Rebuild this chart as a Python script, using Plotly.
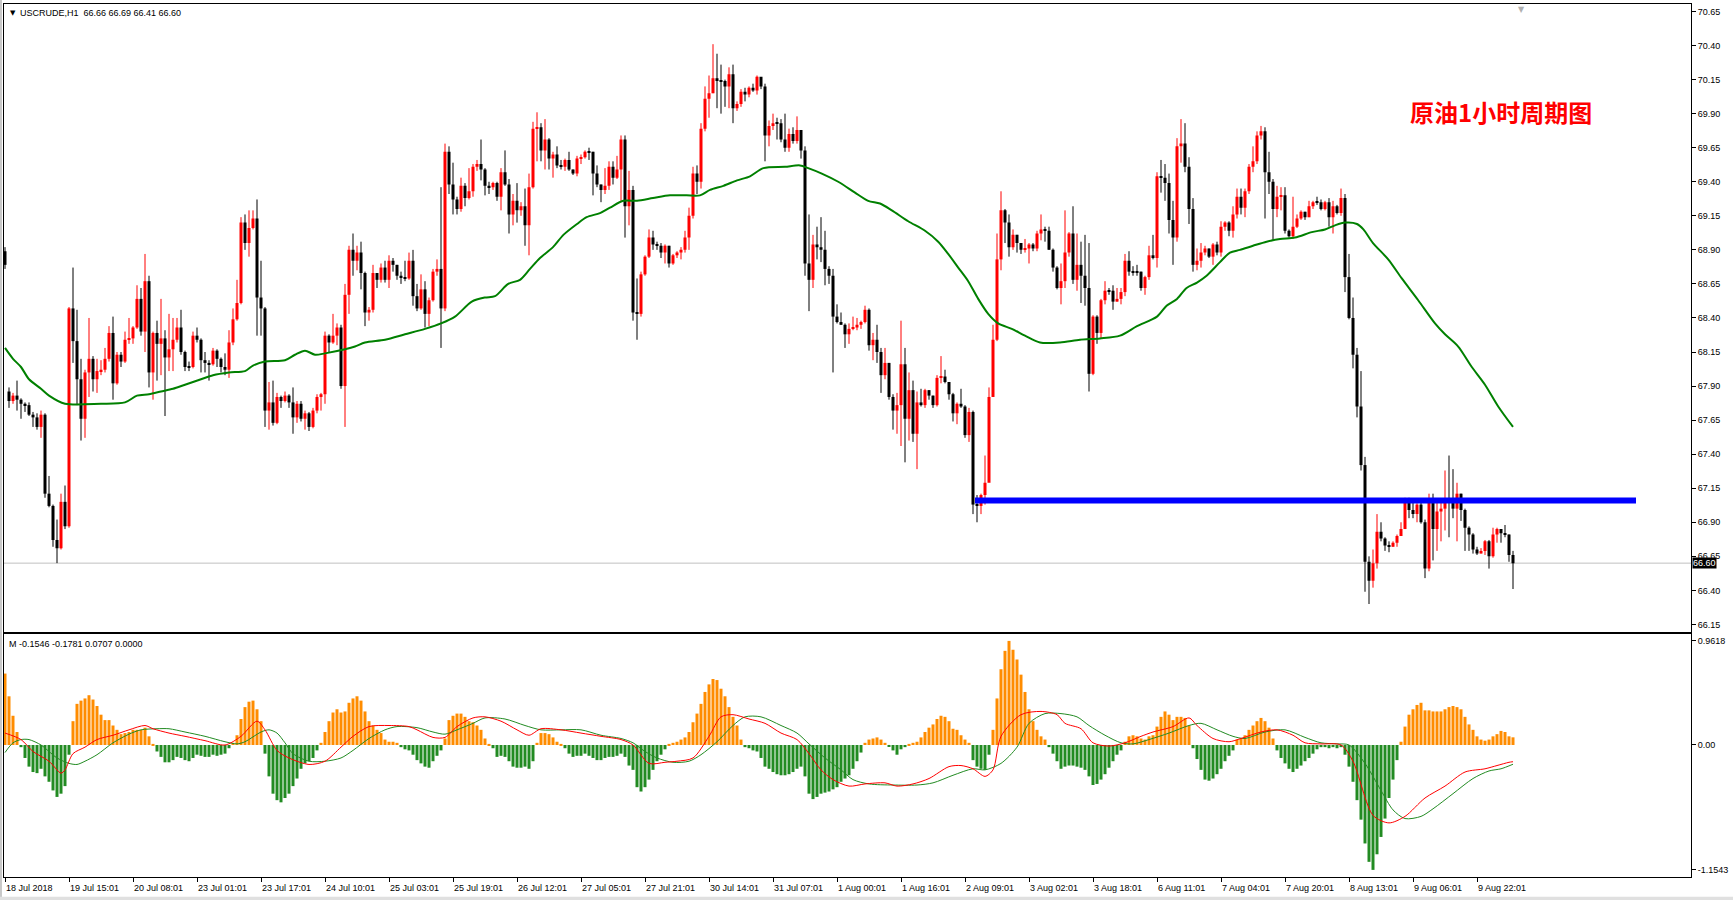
import plotly.graph_objects as go

# ---------------- DATA ----------------
first_open = 68.89
gap_opens = {1: 67.86}

closes = [
    68.79, 67.79, 67.83, 67.80, 67.77, 67.76, 67.69, 67.67, 67.60, 67.69,
    67.11, 67.02, 66.77, 66.71, 67.05, 66.87, 68.47, 68.23, 67.95, 67.66,
    68.00, 68.10, 67.95, 68.01, 68.02, 68.10, 68.29, 67.92, 68.13, 68.08,
    68.24, 68.25, 68.33, 68.54, 68.30, 68.67, 68.00, 68.29, 68.21, 68.25,
    68.11, 68.17, 68.24, 68.33, 68.15, 68.04, 68.04, 68.27, 68.24, 68.09,
    68.07, 68.06, 68.16, 68.10, 68.04, 68.02, 68.22, 68.39, 68.51, 69.10,
    68.95, 69.06, 69.13, 68.55, 68.47, 67.72, 67.78, 67.63, 67.82, 67.79,
    67.83, 67.78, 67.67, 67.77, 67.66, 67.70, 67.60, 67.72, 67.82, 67.84,
    68.27, 68.22, 68.27, 68.33, 67.90, 68.57, 68.90, 68.82, 68.88, 68.73,
    68.44, 68.46, 68.73, 68.68, 68.77, 68.68, 68.82, 68.79, 68.71, 68.70,
    68.69, 68.82, 68.56, 68.47, 68.61, 68.43, 68.53, 68.74, 68.76, 68.47,
    69.62, 69.38, 69.27, 69.20, 69.37, 69.28, 69.33, 69.51, 69.53, 69.49,
    69.37, 69.36, 69.39, 69.29, 69.47, 69.38, 69.16, 69.26, 69.19, 69.22,
    69.08, 69.36, 69.79, 69.80, 69.63, 69.71, 69.57, 69.60, 69.52, 69.51,
    69.56, 69.49, 69.46, 69.57, 69.58, 69.62, 69.62, 69.46, 69.38, 69.34,
    69.37, 69.51, 69.43, 69.49, 69.71, 69.22, 69.34, 68.44, 68.43, 68.72,
    68.85, 68.99, 68.94, 68.93, 68.88, 68.93, 68.80, 68.86, 68.88, 68.90,
    68.99, 69.15, 69.46, 69.40, 69.79, 70.01, 70.05, 70.16, 70.14, 70.14,
    70.10, 70.19, 69.94, 69.97, 70.06, 70.04, 70.09, 70.07, 70.17, 70.10,
    69.74, 69.81, 69.83, 69.83, 69.71, 69.65, 69.75, 69.70, 69.78, 69.63,
    68.80, 68.68, 68.94, 68.92, 68.90, 68.76, 68.71, 68.41, 68.37, 68.35,
    68.28, 68.32, 68.33, 68.35, 68.37, 68.46, 68.20, 68.24, 68.15, 67.98,
    68.07, 67.82, 67.72, 67.76, 68.06, 67.66, 67.87, 67.55, 67.78, 67.76,
    67.87, 67.83, 67.76, 67.96, 67.97, 67.93, 67.84, 67.70, 67.77, 67.75,
    67.54, 67.71, 67.03, 67.02, 67.10, 67.19, 67.82, 68.24, 68.83, 69.19,
    69.10, 68.92, 69.01, 68.95, 68.90, 68.91, 68.94, 68.91, 69.02, 69.05,
    69.04, 68.90, 68.77, 68.62, 68.67, 68.88, 69.02, 68.68, 68.79, 68.71,
    68.62, 67.99, 68.41, 68.29, 68.53, 68.60, 68.60, 68.52, 68.54, 68.59,
    68.82, 68.74, 68.74, 68.74, 68.62, 68.70, 68.86, 68.84, 69.44, 69.43,
    69.39, 69.12, 68.99, 69.66, 69.68, 69.51, 69.20, 68.79, 68.82, 68.88,
    68.91, 68.85, 68.94, 68.88, 69.07, 69.10, 69.04, 69.16, 69.29, 69.21,
    69.33, 69.51, 69.55, 69.74, 69.77, 69.47, 69.40, 69.20, 69.29, 69.30,
    69.04, 69.00, 69.07, 69.13, 69.18, 69.14, 69.22, 69.25, 69.25, 69.20,
    69.25, 69.14, 69.22, 69.17, 69.28, 68.70, 68.40, 68.13, 67.75, 67.32,
    66.61, 66.47, 66.60, 66.83, 66.78, 66.73, 66.72, 66.75, 66.80, 66.85,
    67.07, 66.99, 66.96, 67.03, 66.90, 66.56, 67.06, 66.85, 66.98, 67.00,
    67.05, 67.05, 67.00, 67.11, 66.99, 66.86, 66.81, 66.70, 66.67, 66.69,
    66.76, 66.65, 66.81, 66.85, 66.82, 66.81, 66.66, 66.60,
]

highs = [
    68.92, 67.89, 67.85, 67.94, 67.81, 67.78, 67.78, 67.71, 67.70, 67.72,
    67.70, 67.24, 67.03, 66.92, 67.11, 67.17, 68.48, 68.77, 68.46, 68.10,
    68.02, 68.40, 68.12, 68.10, 68.09, 68.18, 68.34, 68.41, 68.15, 68.15,
    68.30, 68.40, 68.34, 68.64, 68.62, 68.87, 68.71, 68.30, 68.38, 68.54,
    68.31, 68.43, 68.40, 68.40, 68.46, 68.16, 68.08, 68.30, 68.33, 68.25,
    68.15, 68.09, 68.18, 68.17, 68.11, 68.14, 68.31, 68.47, 68.68, 69.14,
    69.16, 69.19, 69.19, 69.27, 68.82, 68.48, 67.93, 67.94, 67.85, 67.83,
    67.86, 67.84, 67.89, 67.79, 67.79, 67.72, 67.71, 67.74, 67.84, 67.85,
    68.30, 68.28, 68.43, 68.36, 68.35, 68.65, 68.93, 69.02, 68.93, 68.96,
    68.74, 68.48, 68.79, 68.73, 68.80, 68.82, 68.86, 68.84, 68.79, 68.74,
    68.82, 68.88, 68.90, 68.65, 68.72, 68.67, 68.55, 68.76, 68.83, 69.36,
    69.68, 69.66, 69.54, 69.29, 69.43, 69.39, 69.50, 69.53, 69.56, 69.71,
    69.50, 69.40, 69.40, 69.40, 69.50, 69.63, 69.42, 69.31, 69.39, 69.25,
    69.35, 69.46, 69.84, 69.91, 69.83, 69.86, 69.72, 69.62, 69.66, 69.56,
    69.57, 69.62, 69.49, 69.59, 69.60, 69.63, 69.65, 69.62, 69.52, 69.38,
    69.50, 69.55, 69.55, 69.59, 69.74, 69.74, 69.48, 69.37, 68.69, 68.74,
    68.86, 69.05, 69.04, 68.96, 68.95, 68.94, 68.93, 68.87, 68.89, 68.92,
    69.04, 69.21, 69.51, 69.52, 69.83, 70.10, 70.18, 70.41, 70.34, 70.26,
    70.15, 70.24, 70.26, 69.99, 70.08, 70.09, 70.10, 70.12, 70.18, 70.16,
    70.12, 69.85, 69.90, 69.87, 69.86, 69.90, 69.79, 69.80, 69.88, 69.78,
    69.66, 69.16, 69.01, 69.07, 69.14, 69.04, 68.78, 68.76, 68.50, 68.44,
    68.36, 68.36, 68.41, 68.40, 68.38, 68.49, 68.47, 68.29, 68.35, 68.18,
    68.18, 68.07, 67.84, 67.85, 68.38, 68.18, 68.00, 67.94, 67.86, 67.88,
    67.88, 67.87, 67.83, 67.98, 68.12, 68.02, 67.93, 67.85, 67.78, 67.88,
    67.76, 67.74, 67.72, 67.10, 67.11, 67.39, 67.89, 68.35, 69.02, 69.33,
    69.20, 69.16, 69.05, 69.01, 68.95, 68.98, 68.95, 68.95, 69.04, 69.16,
    69.07, 69.07, 68.91, 68.78, 68.80, 69.19, 69.03, 69.22, 69.02, 68.96,
    69.01, 68.95, 68.42, 68.42, 68.54, 68.67, 68.62, 68.64, 68.62, 68.62,
    68.87, 68.89, 68.78, 68.79, 68.74, 68.71, 68.93, 69.01, 69.47, 69.56,
    69.53, 69.46, 69.26, 69.72, 69.86, 69.83, 69.58, 69.28, 68.91, 68.95,
    68.93, 68.91, 68.95, 68.96, 69.11, 69.11, 69.11, 69.22, 69.35, 69.35,
    69.35, 69.53, 69.66, 69.77, 69.81, 69.80, 69.62, 69.42, 69.37, 69.36,
    69.36, 69.05, 69.29, 69.16, 69.19, 69.18, 69.26, 69.26, 69.29, 69.27,
    69.26, 69.28, 69.26, 69.23, 69.35, 69.31, 68.87, 68.55, 68.18, 68.01,
    67.38, 66.65, 66.70, 66.96, 66.90, 66.79, 66.76, 66.76, 66.81, 66.90,
    67.08, 67.08, 67.07, 67.04, 67.07, 66.92, 67.11, 67.11, 67.05, 67.05,
    67.28, 67.39, 67.29, 67.19, 67.11, 67.00, 66.87, 66.82, 66.72, 66.71,
    66.77, 66.77, 66.86, 66.86, 66.83, 66.88, 66.81, 66.69,
]

lows = [
    68.76, 67.74, 67.77, 67.72, 67.66, 67.71, 67.68, 67.60, 67.58, 67.52,
    67.08, 67.01, 66.72, 66.60, 66.70, 66.85, 66.86, 68.07, 67.76, 67.50,
    67.52, 67.82, 67.86, 67.85, 67.98, 68.00, 68.08, 67.80, 67.91, 68.04,
    68.07, 68.21, 68.21, 68.32, 68.27, 68.15, 67.89, 67.80, 67.94, 67.98,
    67.68, 68.01, 68.01, 68.22, 68.13, 68.01, 68.01, 68.03, 68.22, 68.00,
    68.00, 67.94, 68.05, 68.04, 68.00, 67.98, 67.96, 68.20, 68.38, 68.50,
    68.90, 68.85, 69.05, 68.27, 68.27, 67.60, 67.58, 67.61, 67.62, 67.74,
    67.78, 67.74, 67.55, 67.63, 67.64, 67.58, 67.57, 67.59, 67.70, 67.72,
    67.77, 68.15, 68.21, 68.20, 67.88, 67.60, 68.43, 68.71, 68.75, 68.61,
    68.34, 68.38, 68.44, 68.62, 68.66, 68.66, 68.62, 68.74, 68.68, 68.65,
    68.67, 68.68, 68.49, 68.45, 68.46, 68.33, 68.34, 68.52, 68.71, 68.18,
    68.45, 69.31, 69.16, 69.16, 69.18, 69.22, 69.27, 69.29, 69.48, 69.41,
    69.30, 69.31, 69.34, 69.26, 69.19, 69.37, 69.02, 69.08, 69.10, 69.15,
    68.93, 68.86, 69.35, 69.55, 69.55, 69.49, 69.49, 69.43, 69.50, 69.49,
    69.48, 69.48, 69.45, 69.44, 69.53, 69.57, 69.56, 69.30, 69.36, 69.25,
    69.31, 69.34, 69.38, 69.42, 69.26, 68.99, 69.08, 68.38, 68.24, 68.41,
    68.71, 68.84, 68.90, 68.90, 68.84, 68.80, 68.77, 68.79, 68.84, 68.83,
    68.88, 68.90, 69.13, 69.31, 69.35, 69.77, 69.87, 70.05, 69.94, 69.90,
    69.95, 69.94, 69.83, 69.92, 69.95, 69.99, 70.02, 70.06, 70.04, 70.08,
    69.55, 69.66, 69.78, 69.71, 69.69, 69.62, 69.62, 69.68, 69.68, 69.57,
    68.71, 68.45, 68.62, 68.83, 68.81, 68.64, 68.65, 68.00, 68.36, 68.35,
    68.18, 68.21, 68.31, 68.31, 68.32, 68.36, 68.16, 68.09, 68.07, 67.85,
    67.95, 67.80, 67.58, 67.55, 67.46, 67.34, 67.50, 67.49, 67.29, 67.75,
    67.74, 67.80, 67.74, 67.75, 67.92, 67.92, 67.80, 67.64, 67.62, 67.74,
    67.52, 67.49, 66.96, 66.90, 66.96, 67.03, 67.20, 67.82, 68.23, 68.75,
    68.95, 68.85, 68.90, 68.88, 68.87, 68.88, 68.80, 68.89, 68.89, 68.97,
    68.96, 68.90, 68.74, 68.61, 68.50, 68.62, 68.85, 68.65, 68.60, 68.51,
    68.49, 67.86, 67.98, 68.21, 68.25, 68.50, 68.57, 68.46, 68.52, 68.50,
    68.56, 68.71, 68.71, 68.71, 68.60, 68.57, 68.68, 68.83, 68.77, 69.32,
    69.26, 69.02, 68.79, 68.96, 69.54, 69.47, 69.09, 68.74, 68.75, 68.77,
    68.86, 68.84, 68.79, 68.86, 68.85, 69.04, 69.00, 68.99, 69.13, 69.16,
    69.14, 69.31, 69.47, 69.53, 69.71, 69.13, 69.31, 68.97, 69.14, 69.19,
    69.02, 68.99, 68.98, 69.06, 69.12, 69.12, 69.14, 69.20, 69.23, 69.19,
    69.19, 69.07, 69.02, 69.16, 69.15, 68.59, 68.39, 68.03, 67.67, 67.28,
    66.39, 66.30, 66.42, 66.56, 66.76, 66.69, 66.68, 66.72, 66.72, 66.80,
    66.85, 66.93, 66.93, 66.90, 66.89, 66.49, 66.54, 66.62, 66.69, 66.76,
    66.84, 66.79, 66.93, 66.76, 66.91, 66.69, 66.69, 66.67, 66.66, 66.67,
    66.66, 66.56, 66.64, 66.75, 66.75, 66.79, 66.61, 66.41,
]

# moving average (green line), sampled along the curve: bar index -> price
ma_x = [0, 2, 4, 6, 9, 11, 15, 24, 30, 33, 36, 39, 42, 45, 49, 52, 56, 60, 62, 65,
        70, 72.5, 75, 77.5, 80, 85, 87.5, 90, 95, 100, 105, 109, 112.5, 116.7, 120, 122.5, 125.8, 128.75, 131.25, 133.75,
        137, 139.6, 143, 145.4, 148.75, 151.25, 154.6, 158, 162, 166.25, 170.4, 173.75, 176.25, 179.6, 183, 186.25, 189.6, 195, 198.75, 200.8,
        204.2, 208.3, 212.5, 215.8, 218.75, 221.7, 225.8, 230, 233.3, 235.8, 238.3, 240.8, 243.3, 245.8, 248.3, 251.7, 255, 258.75, 263.75, 268.75,
        273.75, 278.75, 283, 288, 290.4, 293, 295.4, 298, 300.4, 303.75, 306.25, 308.75, 312, 315.4, 318.75, 322.5, 326.7, 330,
        332.5, 335, 338, 339.6, 342, 345.8, 349.2, 353.3, 357.5, 360, 363.3, 366.7, 370, 373.3, 377]
ma_y = [68.18, 68.10, 68.04, 67.95, 67.88, 67.83, 67.77, 67.77, 67.78, 67.83, 67.84, 67.86, 67.88, 67.91, 67.95, 67.98, 68.00, 68.01, 68.05, 68.08,
        68.09, 68.13, 68.16, 68.13, 68.14, 68.17, 68.19, 68.22, 68.24, 68.28, 68.32, 68.36, 68.41, 68.52, 68.55, 68.56, 68.65, 68.68, 68.76, 68.84,
        68.92, 69.01, 69.09, 69.14, 69.17, 69.21, 69.26, 69.26, 69.28, 69.30, 69.30, 69.30, 69.34, 69.37, 69.41, 69.44, 69.50, 69.51, 69.52, 69.50,
        69.46, 69.40, 69.32, 69.26, 69.24, 69.19, 69.11, 69.04, 68.96, 68.87, 68.77, 68.67, 68.54, 68.43, 68.36, 68.32, 68.27, 68.22, 68.22, 68.24,
        68.25, 68.27, 68.34, 68.41, 68.49, 68.54, 68.62, 68.66, 68.71, 68.81, 68.88, 68.90, 68.93, 68.96, 68.98, 68.99, 69.03, 69.05,
        69.08, 69.10, 69.09, 69.05, 68.95, 68.83, 68.69, 68.53, 68.36, 68.28, 68.19, 68.04, 67.91, 67.75, 67.60]

# horizontal support line (blue) and current price
blue_level = 67.06
blue_from, blue_to = 242.5, 407.75
last_price = 66.60

# indicator pane: histogram per bar
hist = [
    0.66, 0.45, 0.27, 0.12, -0.02, -0.12, -0.20, -0.25, -0.26, -0.22,
    -0.29, -0.34, -0.42, -0.48, -0.45, -0.38, -0.09, 0.22, 0.38, 0.41,
    0.43, 0.46, 0.42, 0.36, 0.28, 0.23, 0.23, 0.18, 0.14, 0.10,
    0.11, 0.12, 0.14, 0.14, 0.14, 0.16, 0.08, 0.01, -0.06, -0.11,
    -0.16, -0.16, -0.14, -0.11, -0.12, -0.14, -0.15, -0.12, -0.09, -0.10,
    -0.11, -0.11, -0.09, -0.10, -0.09, -0.08, -0.03, 0.02, 0.09, 0.24,
    0.35, 0.40, 0.41, 0.33, 0.22, -0.08, -0.29, -0.45, -0.51, -0.53,
    -0.49, -0.45, -0.38, -0.31, -0.22, -0.17, -0.15, -0.12, -0.05, 0.02,
    0.12, 0.22, 0.30, 0.33, 0.30, 0.31, 0.39, 0.43, 0.45, 0.41,
    0.31, 0.22, 0.18, 0.14, 0.11, 0.05, 0.03, 0.03, 0.02, -0.02,
    -0.04, -0.05, -0.09, -0.14, -0.17, -0.20, -0.21, -0.15, -0.10, -0.05,
    0.06, 0.23, 0.27, 0.29, 0.29, 0.26, 0.22, 0.21, 0.18, 0.14,
    0.06, 0.01, -0.03, -0.11, -0.10, -0.11, -0.15, -0.20, -0.21, -0.21,
    -0.20, -0.22, -0.15, 0.02, 0.11, 0.11, 0.10, 0.07, 0.03, 0.01,
    -0.03, -0.08, -0.11, -0.10, -0.10, -0.08, -0.10, -0.12, -0.14, -0.14,
    -0.12, -0.11, -0.11, -0.10, -0.08, -0.11, -0.19, -0.23, -0.39, -0.43,
    -0.39, -0.32, -0.23, -0.15, -0.09, -0.04, 0.01, 0.02, 0.03, 0.05,
    0.07, 0.12, 0.21, 0.29, 0.38, 0.49, 0.56, 0.61, 0.60, 0.52,
    0.45, 0.35, 0.26, 0.18, 0.05, -0.02, -0.03, -0.05, -0.06, -0.12,
    -0.20, -0.22, -0.25, -0.27, -0.28, -0.28, -0.27, -0.25, -0.22, -0.20,
    -0.29, -0.45, -0.50, -0.48, -0.45, -0.44, -0.43, -0.41, -0.39, -0.34,
    -0.31, -0.28, -0.22, -0.15, -0.07, 0.02, 0.05, 0.06, 0.07, 0.05,
    0.02, -0.01, -0.05, -0.09, -0.04, -0.02, 0.01, 0.02, 0.03, 0.07,
    0.12, 0.16, 0.19, 0.24, 0.27, 0.26, 0.22, 0.15, 0.14, 0.09,
    0.05, 0.02, -0.14, -0.20, -0.22, -0.23, -0.09, 0.14, 0.43, 0.70,
    0.87, 0.9618, 0.88, 0.79, 0.65, 0.49, 0.33, 0.22, 0.14, 0.08,
    0.05, -0.02, -0.08, -0.15, -0.22, -0.20, -0.19, -0.19, -0.20, -0.21,
    -0.23, -0.29, -0.37, -0.36, -0.32, -0.27, -0.21, -0.15, -0.09, -0.05,
    0.03, 0.08, 0.09, 0.08, 0.06, 0.05, 0.08, 0.09, 0.17, 0.26,
    0.31, 0.28, 0.23, 0.26, 0.26, 0.25, 0.18, -0.03, -0.13, -0.23,
    -0.32, -0.33, -0.31, -0.27, -0.22, -0.15, -0.10, -0.05, 0.05, 0.06,
    0.09, 0.14, 0.18, 0.22, 0.25, 0.22, 0.16, 0.06, -0.05, -0.12,
    -0.17, -0.22, -0.25, -0.22, -0.19, -0.15, -0.12, -0.08, -0.04, -0.02,
    -0.02, -0.03, -0.02, -0.03, -0.02, -0.09, -0.20, -0.34, -0.51, -0.69,
    -0.91, -1.08, -1.1543, -1.01, -0.85, -0.68, -0.49, -0.32, -0.14, 0.03,
    0.17, 0.28, 0.33, 0.37, 0.39, 0.32, 0.32, 0.31, 0.31, 0.31,
    0.33, 0.35, 0.36, 0.35, 0.33, 0.26, 0.19, 0.14, 0.08, 0.05,
    0.04, 0.05, 0.08, 0.10, 0.13, 0.12, 0.08, 0.0707,
]

# indicator lines, sampled along the curves: bar index -> value
red_x = [0, 4, 7, 11, 14, 15, 17, 20, 23, 27, 31, 35, 37, 41, 45, 50, 55, 59, 63, 65,
         68, 71, 76, 80, 84, 87, 91, 96, 101, 103, 107, 110, 113, 117, 120, 124, 128, 131, 134, 139,
         144, 149, 154, 157, 161, 165, 168, 172, 176, 179, 182, 186, 190, 194, 198, 201, 204, 207, 211, 215,
         220, 223, 227, 231, 236, 239, 242, 245, 247, 249, 254, 259, 263, 265, 269, 272, 276, 280, 284, 287,
         292, 296, 298, 302, 306, 309, 314, 318, 322, 325, 329, 334, 337, 342, 346, 350, 355, 360, 365, 370,
         373, 376, 377]
red_y = [0.11, 0.05, -0.06, -0.15, -0.26, -0.23, -0.08, -0.02, 0.05, 0.09, 0.14, 0.18, 0.15, 0.11, 0.08, 0.04, 0.00, 0.08, 0.22, 0.14,
         -0.05, -0.12, -0.18, -0.15, -0.02, 0.08, 0.17, 0.18, 0.17, 0.14, 0.07, 0.07, 0.17, 0.25, 0.26, 0.22, 0.14, 0.09, 0.15, 0.14,
         0.11, 0.08, 0.05, 0.00, -0.17, -0.16, -0.15, -0.12, 0.08, 0.26, 0.28, 0.24, 0.20, 0.11, 0.05, -0.08, -0.23, -0.32, -0.38, -0.36,
         -0.35, -0.38, -0.36, -0.31, -0.20, -0.19, -0.22, -0.29, -0.23, 0.08, 0.28, 0.31, 0.28, 0.20, 0.15, 0.02, -0.01, 0.02, 0.08, 0.12,
         0.17, 0.25, 0.18, 0.06, 0.03, 0.06, 0.12, 0.14, 0.09, 0.02, 0.01, 0.00, -0.15, -0.65, -0.72, -0.66, -0.49, -0.38, -0.25, -0.22,
         -0.19, -0.16, -0.1546]
green_x = [0, 2, 4, 6, 9, 11, 13, 16, 18, 20, 23, 27, 31, 34, 38, 41, 45, 50, 55, 58,
           60, 64, 66, 68, 70, 72, 76, 80, 84, 87, 91, 95, 98, 103, 107, 110, 113, 117, 120, 125,
           130, 134, 139, 144, 149, 154, 157, 160, 163, 167, 171, 174, 178, 182, 185, 189, 194, 198, 201, 205,
           209, 212, 216, 222, 228, 232, 237, 242, 245, 249, 253, 256, 260, 264, 268, 271, 275, 279, 282, 286,
           291, 296, 299, 303, 307, 310, 315, 320, 325, 329, 333, 336, 340, 344, 347, 350, 354, 357, 362, 367,
           371, 374, 377]
green_y = [-0.07, 0.02, 0.05, 0.05, 0.00, -0.06, -0.12, -0.17, -0.18, -0.15, -0.09, 0.02, 0.10, 0.14, 0.15, 0.15, 0.12, 0.08, 0.03, 0.01,
           0.03, 0.12, 0.14, 0.11, 0.02, -0.08, -0.15, -0.15, -0.12, -0.05, 0.06, 0.14, 0.17, 0.16, 0.12, 0.10, 0.14, 0.20, 0.25, 0.24,
           0.18, 0.14, 0.14, 0.14, 0.09, 0.06, 0.02, -0.06, -0.12, -0.16, -0.15, -0.09, 0.03, 0.18, 0.26, 0.26, 0.18, 0.11, 0.01, -0.12,
           -0.23, -0.32, -0.36, -0.37, -0.37, -0.35, -0.28, -0.22, -0.23, -0.17, -0.02, 0.20, 0.29, 0.29, 0.26, 0.18, 0.09, 0.02, 0.01, 0.05,
           0.11, 0.18, 0.20, 0.14, 0.08, 0.06, 0.12, 0.14, 0.07, 0.02, 0.01, 0.00, -0.17, -0.42, -0.60, -0.68, -0.66, -0.59, -0.45, -0.31,
           -0.24, -0.22, -0.1781]

# axis labels
price_ticks = [70.65, 70.40, 70.15, 69.90, 69.65, 69.40, 69.15, 68.90, 68.65, 68.40,
               68.15, 67.90, 67.65, 67.40, 67.15, 66.90, 66.65, 66.40, 66.15]
ind_ticks = [0.9618, 0.0, -1.1543]
ind_tick_text = ["0.9618", "0.00", "-1.1543"]
time_tick_idx = [0, 16, 32, 48, 64, 80, 96, 112, 128, 144, 160, 176, 192, 208, 224, 240, 256, 272, 288, 304, 320, 336, 352, 368]
time_labels = ["18 Jul 2018", "19 Jul 15:01", "20 Jul 08:01", "23 Jul 01:01", "23 Jul 17:01", "24 Jul 10:01",
               "25 Jul 03:01", "25 Jul 19:01", "26 Jul 12:01", "27 Jul 05:01", "27 Jul 21:01", "30 Jul 14:01",
               "31 Jul 07:01", "1 Aug 00:01", "1 Aug 16:01", "2 Aug 09:01", "3 Aug 02:01", "3 Aug 18:01",
               "6 Aug 11:01", "7 Aug 04:01", "7 Aug 20:01", "8 Aug 13:01", "9 Aug 06:01", "9 Aug 22:01"]
header_text = "USCRUDE,H1  66.66 66.69 66.41 66.60"
ind_header = "M -0.1546 -0.1781 0.0707 0.0000"
title_text = "原油1小时周期图"

assert len(closes) == len(highs) == len(lows) == len(hist)
assert len(red_x) == len(red_y) and len(green_x) == len(green_y) and len(ma_x) == len(ma_y)

# ---------------- FIGURE ----------------
n = len(closes)
idx = list(range(n))
opens = [first_open] + closes[:-1]
for k, v in gap_opens.items():
    opens[k] = v

UP, DOWN = "#FF0000", "#000000"
is_up = [c > o for o, c in zip(opens, closes)]
min_body = 0.008
body_base, body_h = [], []
for o, c in zip(opens, closes):
    lo, hi = min(o, c), max(o, c)
    if hi - lo < min_body:
        mid = (lo + hi) / 2
        lo, hi = mid - min_body / 2, mid + min_body / 2
    body_base.append(lo)
    body_h.append(hi - lo)

FONT = "Liberation Sans"
fig = go.Figure()

# wicks
for flag, col in ((True, UP), (False, DOWN)):
    wx, wy = [], []
    for i in idx:
        if is_up[i] == flag:
            wx += [i, i, None]
            wy += [lows[i], highs[i], None]
    fig.add_trace(go.Scatter(x=wx, y=wy, mode="lines", line=dict(color=col, width=1),
                             hoverinfo="skip", xaxis="x", yaxis="y"))

# bodies
fig.add_trace(go.Bar(x=idx, y=body_h, base=body_base, width=0.75,
                     marker=dict(color=[UP if u else DOWN for u in is_up], line=dict(width=0)),
                     xaxis="x", yaxis="y", hoverinfo="skip"))

# moving average
fig.add_trace(go.Scatter(x=ma_x, y=ma_y, mode="lines", line=dict(color="#008000", width=2, shape="spline", smoothing=0.8),
                         xaxis="x", yaxis="y", hoverinfo="skip"))

# blue level
fig.add_trace(go.Scatter(x=[blue_from, blue_to], y=[blue_level, blue_level], mode="lines",
                         line=dict(color="#0000FF", width=6), xaxis="x", yaxis="y", hoverinfo="skip"))

# indicator histogram
fig.add_trace(go.Bar(x=idx, y=hist, width=0.75,
                     marker=dict(color=["#FF8C00" if v >= 0 else "#228B22" for v in hist], line=dict(width=0)),
                     xaxis="x2", yaxis="y2", hoverinfo="skip"))
fig.add_trace(go.Scatter(x=green_x, y=green_y, mode="lines", line=dict(color="#228B22", width=1, shape="spline", smoothing=0.8),
                         xaxis="x2", yaxis="y2", hoverinfo="skip"))
fig.add_trace(go.Scatter(x=red_x, y=red_y, mode="lines", line=dict(color="#FF0000", width=1, shape="spline", smoothing=0.8),
                         xaxis="x2", yaxis="y2", hoverinfo="skip"))

xr = [-0.25, 421.5]
axis_common = dict(showgrid=False, zeroline=False, showline=True, linecolor="black", linewidth=1, mirror=True)

fig.update_layout(
    width=1733, height=900,
    margin=dict(l=4, r=42, t=4, b=23),
    paper_bgcolor="white", plot_bgcolor="white",
    showlegend=False, barmode="overlay",
    xaxis=dict(domain=[0, 1], anchor="y", range=xr, showticklabels=False, ticks="", **axis_common),
    yaxis=dict(domain=[0.2812, 1], anchor="x", side="right", range=[66.098, 70.705],
               tickvals=price_ticks, ticktext=[f"{v:.2f}" for v in price_ticks],
               ticks="outside", ticklen=4, tickcolor="black",
               tickfont=dict(family=FONT, size=9, color="black"), **axis_common),
    xaxis2=dict(domain=[0, 1], anchor="y2", range=xr, showticklabels=False,
                tickvals=time_tick_idx, ticks="outside", ticklen=4, tickcolor="black", **axis_common),
    yaxis2=dict(domain=[0, 0.2784], anchor="x2", side="right", range=[-1.220, 1.026],
                tickvals=ind_ticks, ticktext=ind_tick_text,
                ticks="outside", ticklen=4, tickcolor="black",
                tickfont=dict(family=FONT, size=9, color="black"), **axis_common),
)

# current price line
fig.add_shape(type="line", xref="paper", x0=0, x1=1, yref="y", y0=last_price, y1=last_price,
              line=dict(color="#C0C0C0", width=1), layer="below")
# window frame (light grey strips at the left and bottom edge)
fig.add_shape(type="rect", xref="paper", x0=-0.0024, x1=-0.0012, yref="paper", y0=-0.03, y1=1.005,
              fillcolor="#C8C8C8", line=dict(width=0), layer="above")
fig.add_shape(type="rect", xref="paper", x0=-0.0024, x1=1.03, yref="paper", y0=-0.0265, y1=-0.0225,
              fillcolor="#E0E0E0", line=dict(width=0), layer="above")

ann = []
ann.append(dict(text="▼", xref="paper", x=0, xshift=4, yref="paper", y=1, yshift=-3,
                xanchor="left", yanchor="top", showarrow=False, font=dict(family="DejaVu Sans", size=7, color="black")))
ann.append(dict(text=header_text, xref="paper", x=0, xshift=14, yref="paper", y=1, yshift=-2,
                xanchor="left", yanchor="top", showarrow=False, font=dict(family=FONT, size=9, color="black")))
ann.append(dict(text=ind_header, xref="paper", x=0, xshift=3, yref="paper", y=0.2784, yshift=-3,
                xanchor="left", yanchor="top", showarrow=False, font=dict(family=FONT, size=9, color="black")))
ann.append(dict(text=f"<b>{title_text}</b>", xref="paper", x=0.8874, yref="paper", y=0.8774,
                xanchor="center", yanchor="middle", showarrow=False,
                font=dict(family="Noto Sans CJK SC", size=24, color="#FF0000")))
ann.append(dict(text=f"{last_price:.2f}", xref="paper", x=1, xshift=1, yref="y", y=last_price,
                xanchor="left", yanchor="middle", showarrow=False, bgcolor="black", borderpad=0,
                font=dict(family=FONT, size=9, color="white")))
ann.append(dict(text="▼", xref="x", x=379.2, yref="paper", y=1, yshift=1,
                xanchor="center", yanchor="top", showarrow=False, font=dict(family="DejaVu Sans", size=8, color="#B0B0B0")))
for i, t in zip(time_tick_idx, time_labels):
    ann.append(dict(text=t, xref="x2", x=i, xshift=-1, yref="paper", y=0, yshift=-4,
                    xanchor="left", yanchor="top", showarrow=False, font=dict(family=FONT, size=9, color="black")))
fig.update_layout(annotations=ann)

fig.write_html("out.html")
